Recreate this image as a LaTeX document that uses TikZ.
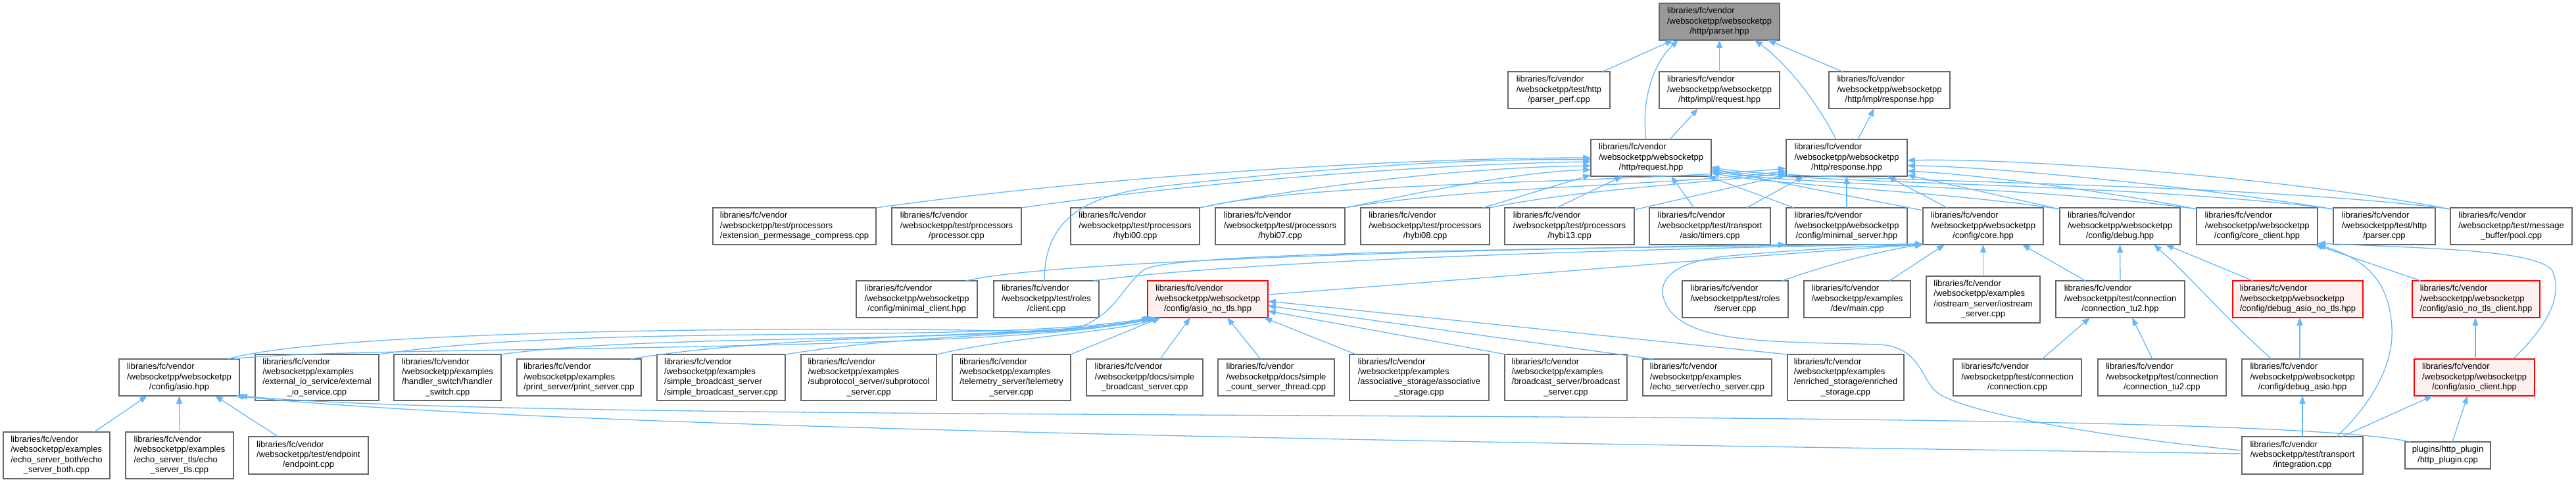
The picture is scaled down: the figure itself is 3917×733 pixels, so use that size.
\documentclass[tikz,border=0pt]{standalone}
\usepackage{fontspec}
\setmainfont{Liberation Sans}
\usetikzlibrary{arrows.meta}
\definecolor{edgec}{HTML}{63B8FF}
\definecolor{boxc}{HTML}{666666}
\definecolor{redfill}{HTML}{FFF0F0}
\definecolor{grayfill}{HTML}{999999}
\newcommand{\lbl}[2]{\begin{tabular}{@{}l@{}}#1\\\multicolumn{1}{@{}c@{}}{#2}\end{tabular}}
\tikzset{
  box/.style={draw=boxc, fill=white, line width=1.3pt, inner sep=0pt, outer sep=0pt,
    anchor=north west, font=\fontsize{13}{15.3}\selectfont, text=black},
  trunc/.style={box, draw=red, fill=redfill},
  rootbox/.style={box, fill=grayfill},
  dep/.style={draw=edgec, line width=1.3pt, -{Triangle[length=12pt,width=9pt]}},
}
\begin{document}
\begin{tikzpicture}[x=1pt,y=-1pt]
\fill[white] (0,0) rectangle (3917,733);
\useasboundingbox (0,0) rectangle (3917,733);
% rank 0
\node[rootbox, minimum width=183pt, minimum height=56pt] (P) at (2523,5) {\lbl{libraries/fc/vendor\\/websocketpp/websocketpp}{/http/parser.hpp}};
% rank 1
\node[box, minimum width=155pt, minimum height=56pt] (pperf) at (2293,109) {\lbl{libraries/fc/vendor\\/websocketpp/test/http}{/parser\_perf.cpp}};
\node[box, minimum width=183pt, minimum height=56pt] (ireq) at (2523,109) {\lbl{libraries/fc/vendor\\/websocketpp/websocketpp}{/http/impl/request.hpp}};
\node[box, minimum width=184pt, minimum height=56pt] (iresp) at (2781,109) {\lbl{libraries/fc/vendor\\/websocketpp/websocketpp}{/http/impl/response.hpp}};
% rank 2
\node[box, minimum width=183pt, minimum height=56pt] (req) at (2419,212) {\lbl{libraries/fc/vendor\\/websocketpp/websocketpp}{/http/request.hpp}};
\node[box, minimum width=184pt, minimum height=56pt] (resp) at (2716,212) {\lbl{libraries/fc/vendor\\/websocketpp/websocketpp}{/http/response.hpp}};
% rank 3
\node[box, minimum width=248pt, minimum height=56pt] (extpm) at (1084,316) {\lbl{libraries/fc/vendor\\/websocketpp/test/processors}{/extension\_permessage\_compress.cpp}};
\node[box, minimum width=197pt, minimum height=56pt] (proc) at (1356,316) {\lbl{libraries/fc/vendor\\/websocketpp/test/processors}{/processor.cpp}};
\node[box, minimum width=196pt, minimum height=56pt] (h00) at (1628,316) {\lbl{libraries/fc/vendor\\/websocketpp/test/processors}{/hybi00.cpp}};
\node[box, minimum width=197pt, minimum height=56pt] (h07) at (1848,316) {\lbl{libraries/fc/vendor\\/websocketpp/test/processors}{/hybi07.cpp}};
\node[box, minimum width=196pt, minimum height=56pt] (h08) at (2069,316) {\lbl{libraries/fc/vendor\\/websocketpp/test/processors}{/hybi08.cpp}};
\node[box, minimum width=197pt, minimum height=56pt] (h13) at (2288,316) {\lbl{libraries/fc/vendor\\/websocketpp/test/processors}{/hybi13.cpp}};
\node[box, minimum width=184pt, minimum height=56pt] (timers) at (2508,316) {\lbl{libraries/fc/vendor\\/websocketpp/test/transport}{/asio/timers.cpp}};
\node[box, minimum width=184pt, minimum height=56pt] (minsrv) at (2716,316) {\lbl{libraries/fc/vendor\\/websocketpp/websocketpp}{/config/minimal\_server.hpp}};
\node[box, minimum width=183pt, minimum height=56pt] (core) at (2924,316) {\lbl{libraries/fc/vendor\\/websocketpp/websocketpp}{/config/core.hpp}};
\node[box, minimum width=183pt, minimum height=56pt] (debug) at (3132,316) {\lbl{libraries/fc/vendor\\/websocketpp/websocketpp}{/config/debug.hpp}};
\node[box, minimum width=184pt, minimum height=56pt] (coreclient) at (3340,316) {\lbl{libraries/fc/vendor\\/websocketpp/websocketpp}{/config/core\_client.hpp}};
\node[box, minimum width=155pt, minimum height=56pt] (hparser) at (3548,316) {\lbl{libraries/fc/vendor\\/websocketpp/test/http}{/parser.cpp}};
\node[box, minimum width=185pt, minimum height=56pt] (pool) at (3726,316) {\lbl{libraries/fc/vendor\\/websocketpp/test/message}{\_buffer/pool.cpp}};
% rank 4
\node[box, minimum width=184pt, minimum height=56pt] (minclient) at (1302,427) {\lbl{libraries/fc/vendor\\/websocketpp/websocketpp}{/config/minimal\_client.hpp}};
\node[box, minimum width=160pt, minimum height=56pt] (rclient) at (1511,427) {\lbl{libraries/fc/vendor\\/websocketpp/test/roles}{/client.cpp}};
\node[trunc, minimum width=183pt, minimum height=56pt] (asionotls) at (1745,427) {\lbl{libraries/fc/vendor\\/websocketpp/websocketpp}{/config/asio\_no\_tls.hpp}};
\node[box, minimum width=161pt, minimum height=56pt] (rserver) at (2558,427) {\lbl{libraries/fc/vendor\\/websocketpp/test/roles}{/server.cpp}};
\node[box, minimum width=162pt, minimum height=56pt] (devmain) at (2743,427) {\lbl{libraries/fc/vendor\\/websocketpp/examples}{/dev/main.cpp}};
\node[box, minimum width=173pt, minimum height=71pt] (iostream) at (2929,420) {\lbl{libraries/fc/vendor\\/websocketpp/examples\\/iostream\_server/iostream}{\_server.cpp}};
\node[box, minimum width=196pt, minimum height=56pt] (conntu2h) at (3126,427) {\lbl{libraries/fc/vendor\\/websocketpp/test/connection}{/connection\_tu2.hpp}};
\node[trunc, minimum width=198pt, minimum height=56pt] (dbgnotls) at (3395,427) {\lbl{libraries/fc/vendor\\/websocketpp/websocketpp}{/config/debug\_asio\_no\_tls.hpp}};
\node[trunc, minimum width=194pt, minimum height=56pt] (notlsclient) at (3668,427) {\lbl{libraries/fc/vendor\\/websocketpp/websocketpp}{/config/asio\_no\_tls\_client.hpp}};
% rank 5
\node[box, minimum width=183pt, minimum height=56pt] (asio) at (181,546) {\lbl{libraries/fc/vendor\\/websocketpp/websocketpp}{/config/asio.hpp}};
\node[box, minimum width=188pt, minimum height=70pt] (extio) at (388,539) {\lbl{libraries/fc/vendor\\/websocketpp/examples\\/external\_io\_service/external}{\_io\_service.cpp}};
\node[box, minimum width=163pt, minimum height=70pt] (hswitch) at (599,539) {\lbl{libraries/fc/vendor\\/websocketpp/examples\\/handler\_switch/handler}{\_switch.cpp}};
\node[box, minimum width=189pt, minimum height=56pt] (print) at (786,546) {\lbl{libraries/fc/vendor\\/websocketpp/examples}{/print\_server/print\_server.cpp}};
\node[box, minimum width=195pt, minimum height=70pt] (sbs) at (999,539) {\lbl{libraries/fc/vendor\\/websocketpp/examples\\/simple\_broadcast\_server}{/simple\_broadcast\_server.cpp}};
\node[box, minimum width=206pt, minimum height=70pt] (subp) at (1218,539) {\lbl{libraries/fc/vendor\\/websocketpp/examples\\/subprotocol\_server/subprotocol}{\_server.cpp}};
\node[box, minimum width=180pt, minimum height=70pt] (telem) at (1448,539) {\lbl{libraries/fc/vendor\\/websocketpp/examples\\/telemetry\_server/telemetry}{\_server.cpp}};
\node[box, minimum width=177pt, minimum height=56pt] (docsb) at (1652,546) {\lbl{libraries/fc/vendor\\/websocketpp/docs/simple}{\_broadcast\_server.cpp}};
\node[box, minimum width=177pt, minimum height=56pt] (docsc) at (1852,546) {\lbl{libraries/fc/vendor\\/websocketpp/docs/simple}{\_count\_server\_thread.cpp}};
\node[box, minimum width=212pt, minimum height=70pt] (assoc) at (2052,539) {\lbl{libraries/fc/vendor\\/websocketpp/examples\\/associative\_storage/associative}{\_storage.cpp}};
\node[box, minimum width=186pt, minimum height=70pt] (bcast) at (2288,539) {\lbl{libraries/fc/vendor\\/websocketpp/examples\\/broadcast\_server/broadcast}{\_server.cpp}};
\node[box, minimum width=196pt, minimum height=56pt] (echo) at (2498,546) {\lbl{libraries/fc/vendor\\/websocketpp/examples}{/echo\_server/echo\_server.cpp}};
\node[box, minimum width=177pt, minimum height=70pt] (enrich) at (2718,539) {\lbl{libraries/fc/vendor\\/websocketpp/examples\\/enriched\_storage/enriched}{\_storage.cpp}};
\node[box, minimum width=195pt, minimum height=56pt] (conn) at (2970,546) {\lbl{libraries/fc/vendor\\/websocketpp/test/connection}{/connection.cpp}};
\node[box, minimum width=195pt, minimum height=56pt] (conntu2c) at (3190,546) {\lbl{libraries/fc/vendor\\/websocketpp/test/connection}{/connection\_tu2.cpp}};
\node[box, minimum width=184pt, minimum height=56pt] (dbgasio) at (3409,546) {\lbl{libraries/fc/vendor\\/websocketpp/websocketpp}{/config/debug\_asio.hpp}};
\node[trunc, minimum width=183pt, minimum height=56pt] (asioclient) at (3671,546) {\lbl{libraries/fc/vendor\\/websocketpp/websocketpp}{/config/asio\_client.hpp}};
% rank 6
\node[box, minimum width=162pt, minimum height=71pt] (eboth) at (5,657) {\lbl{libraries/fc/vendor\\/websocketpp/examples\\/echo\_server\_both/echo}{\_server\_both.cpp}};
\node[box, minimum width=164pt, minimum height=71pt] (etls) at (191,657) {\lbl{libraries/fc/vendor\\/websocketpp/examples\\/echo\_server\_tls/echo}{\_server\_tls.cpp}};
\node[box, minimum width=182pt, minimum height=57pt] (endpoint) at (378,664) {\lbl{libraries/fc/vendor\\/websocketpp/test/endpoint}{/endpoint.cpp}};
\node[box, minimum width=184pt, minimum height=57pt] (integ) at (3409,664) {\lbl{libraries/fc/vendor\\/websocketpp/test/transport}{/integration.cpp}};
\node[box, minimum width=130pt, minimum height=41pt] (httpplug) at (3657,672) {\lbl{plugins/http\_plugin}{/http\_plugin.cpp}};

% ---- edges to parser.hpp and impl
\draw[dep] ([shift={(144,0)}]pperf.north west) -- ([shift={(21,56)}]P.north west);
\draw[dep] (ireq.north) -- (P.south);
\draw[dep] ([shift={(21,0)}]iresp.north west) -- ([shift={(165,56)}]P.north west);
\draw[dep] ([shift={(84,0)}]req.north west) .. controls (2495,150) and (2515,95) .. ([shift={(29,56)}]P.north west);
\draw[dep] ([shift={(76,0)}]resp.north west) .. controls (2760,150) and (2715,95) .. ([shift={(145,56)}]P.north west);
\draw[dep] ([shift={(120,0)}]req.north west) -- ([shift={(59,56)}]ireq.north west);
\draw[dep] ([shift={(109,0)}]resp.north west) -- ([shift={(69,56)}]iresp.north west);

% ---- edges to request.hpp / response.hpp
\draw[dep] (extpm.north east) .. controls (1700,265) and (2150,240) .. ([shift={(0,28)}]req.north west);
\draw[dep] (proc.north east) .. controls (1800,280) and (2150,250) .. ([shift={(0,34)}]req.north west);
\draw[dep] ([shift={(77,0)}]rclient.north west) .. controls (1588,340) and (1640,298) .. (1760,284) .. controls (1950,262) and (2200,240) .. ([shift={(0,31)}]req.north west);
\draw[dep] (h00.north east) .. controls (1950,290) and (2200,255) .. ([shift={(0,40)}]req.north west);
\draw[dep] (h00.north east) .. controls (2000,275) and (2450,280) .. ([shift={(0,44)}]resp.north west);
\draw[dep] (h07.north east) .. controls (2150,295) and (2300,262) .. ([shift={(0,46)}]req.north west);
\draw[dep] (h07.north east) .. controls (2250,282) and (2550,282) .. ([shift={(0,48)}]resp.north west);
\draw[dep] ([shift={(186,0)}]h08.north west) -- ([shift={(0,54)}]req.north west);
\draw[dep] (h08.north east) .. controls (2400,288) and (2600,278) .. ([shift={(0,51)}]resp.north west);
\draw[dep] ([shift={(79,0)}]h13.north west) -- ([shift={(48,56)}]req.north west);
\draw[dep] ([shift={(0,3)}]h13.north east) -- ([shift={(0,54)}]resp.north west);
\draw[dep] ([shift={(68,0)}]timers.north west) -- ([shift={(122,56)}]req.north west);
\draw[dep] ([shift={(148,0)}]timers.north west) -- ([shift={(27,56)}]resp.north west);
\draw[dep] ([shift={(12,0)}]minsrv.north west) -- ([shift={(178,56)}]req.north west);
\draw[dep] (minsrv.north) -- (resp.south);
\draw[dep] ([shift={(0,4)}]core.north west) -- ([shift={(183,45)}]req.north west);
\draw[dep] ([shift={(37,0)}]core.north west) -- ([shift={(154,56)}]resp.north west);
\draw[dep] ([shift={(0,2)}]debug.north west) .. controls (2950,290) and (2720,284) .. ([shift={(183,51)}]req.north west);
\draw[dep] ([shift={(0,2)}]debug.north west) -- ([shift={(184,54)}]resp.north west);
\draw[dep] ([shift={(0,2)}]coreclient.north west) .. controls (3100,283) and (2720,281) .. ([shift={(183,48)}]req.north west);
\draw[dep] ([shift={(0,2)}]coreclient.north west) .. controls (3200,290) and (3000,265) .. ([shift={(184,48)}]resp.north west);
\draw[dep] ([shift={(0,2)}]hparser.north west) .. controls (3250,278) and (2720,279) .. ([shift={(183,45)}]req.north west);
\draw[dep] ([shift={(0,2)}]hparser.north west) .. controls (3300,278) and (3000,252) .. ([shift={(184,40)}]resp.north west);
\draw[dep] ([shift={(0,2)}]pool.north west) .. controls (3400,275) and (2720,277) .. ([shift={(183,42)}]req.north west);
\draw[dep] ([shift={(0,2)}]pool.north west) .. controls (3450,266) and (3050,240) .. ([shift={(184,32)}]resp.north west);

% ---- edges to core.hpp / minimal_server.hpp
\draw[dep] ([shift={(183,21)}]asionotls.north west) .. controls (2300,420) and (2700,385) .. ([shift={(0,56)}]core.north west);
\draw[dep] ([shift={(166,0)}]asio.north west) .. controls (500,500) and (1300,495) .. (1600,505) .. controls (1690,500) and (1700,440) .. (1740,410) .. controls (1780,385) and (2300,378) .. ([shift={(0,55)}]core.north west);
\draw[dep] ([shift={(151,0)}]rclient.north west) .. controls (1900,395) and (2500,378) .. ([shift={(0,55)}]core.north west);
\draw[dep] ([shift={(152,0)}]rserver.north west) .. controls (2800,395) and (2880,378) .. ([shift={(0,56)}]core.north west);
\draw[dep] ([shift={(130,0)}]devmain.north west) -- ([shift={(33,56)}]core.north west);
\draw[dep] (iostream.north) -- (core.south);
\draw[dep] ([shift={(45,0)}]conntu2h.north west) -- ([shift={(151,56)}]core.north west);
\draw[dep] ([shift={(0,21)}]integ.north west) .. controls (3200,665) and (3000,630) .. (2950,600)
  .. controls (2920,582) and (2925,530) .. (2860,524)
  .. controls (2700,519) and (2560,525) .. (2532,460)
  .. controls (2518,428) and (2540,400) .. (2620,390)
  .. controls (2750,378) and (2850,374) .. ([shift={(0,56)}]core.north west);
\draw[dep] ([shift={(167,0)}]minclient.north west) .. controls (1600,395) and (2300,378) .. (minsrv.south west);

% ---- edges to asio_no_tls.hpp
\draw[dep] ([shift={(175,0)}]asio.north west) .. controls (500,525) and (1550,538) .. ([shift={(3,56)}]asionotls.north west);
\draw[dep] (extio.north east) .. controls (900,490) and (1500,525) .. ([shift={(6,56)}]asionotls.north west);
\draw[dep] (hswitch.north east) .. controls (1000,505) and (1550,525) .. ([shift={(9,56)}]asionotls.north west);
\draw[dep] ([shift={(173,0)}]print.north west) .. controls (1200,505) and (1600,515) .. ([shift={(12,56)}]asionotls.north west);
\draw[dep] (sbs.north east) .. controls (1400,505) and (1650,510) .. ([shift={(15,56)}]asionotls.north west);
\draw[dep] (subp.north east) .. controls (1550,510) and (1700,505) .. ([shift={(18,56)}]asionotls.north west);
\draw[dep] (telem.north east) -- ([shift={(20,56)}]asionotls.north west);
\draw[dep] ([shift={(112,0)}]docsb.north west) -- ([shift={(65,56)}]asionotls.north west);
\draw[dep] ([shift={(65,0)}]docsc.north west) -- ([shift={(121,56)}]asionotls.north west);
\draw[dep] ([shift={(10,0)}]assoc.north west) -- ([shift={(177,56)}]asionotls.north west);
\draw[dep] ([shift={(2,0)}]bcast.north west) -- ([shift={(183,46)}]asionotls.north west);
\draw[dep] ([shift={(15,0)}]echo.north west) -- ([shift={(183,38)}]asionotls.north west);
\draw[dep] (enrich.north west) -- ([shift={(183,31)}]asionotls.north west);

% ---- edges to asio.hpp
\draw[dep] ([shift={(138,0)}]eboth.north west) -- ([shift={(43,56)}]asio.north west);
\draw[dep] (etls.north) -- (asio.south);
\draw[dep] ([shift={(45,0)}]endpoint.north west) -- ([shift={(146,56)}]asio.north west);
\draw[dep] ([shift={(0,26)}]integ.north west) .. controls (2800,680) and (900,660) .. ([shift={(177,56)}]asio.north west);
\draw[dep] ([shift={(8,0)}]httpplug.north west) .. controls (3400,612) and (900,650) .. (asio.south east);

% ---- right part
\draw[dep] ([shift={(144,0)}]integ.north west) .. controls (3600,620) and (3640,560) .. (3637,500) .. controls (3634,430) and (3600,395) .. (coreclient.south east);
\draw[dep] (integ.north) -- (dbgasio.south);
\draw[dep] ([shift={(152,0)}]integ.north west) -- ([shift={(28,56)}]asioclient.north west);
\draw[dep] ([shift={(72,0)}]httpplug.north west) -- ([shift={(81,56)}]asioclient.north west);
\draw[dep] ([shift={(93,0)}]asioclient.north west) -- ([shift={(96,56)}]notlsclient.north west);
\draw[dep] ([shift={(150,0)}]asioclient.north west) .. controls (3870,500) and (3900,450) .. (3880,410) .. controls (3850,380) and (3700,378) .. ([shift={(184,54)}]coreclient.north west);
\draw[dep] ([shift={(13,0)}]notlsclient.north west) -- ([shift={(180,56)}]coreclient.north west);
\draw[dep] ([shift={(31,0)}]dbgnotls.north west) -- ([shift={(161,56)}]debug.north west);
\draw[dep] ([shift={(88,0)}]dbgasio.north west) -- ([shift={(102,56)}]dbgnotls.north west);
\draw[dep] ([shift={(45,0)}]dbgasio.north west) .. controls (3380,480) and (3330,420) .. ([shift={(143,56)}]debug.north west);
\draw[dep] (conntu2h.north) -- (debug.south);
\draw[dep] ([shift={(135,0)}]conn.north west) -- ([shift={(52,56)}]conntu2h.north west);
\draw[dep] ([shift={(83,0)}]conntu2c.north west) -- ([shift={(116,56)}]conntu2h.north west);
\end{tikzpicture}
\end{document}
